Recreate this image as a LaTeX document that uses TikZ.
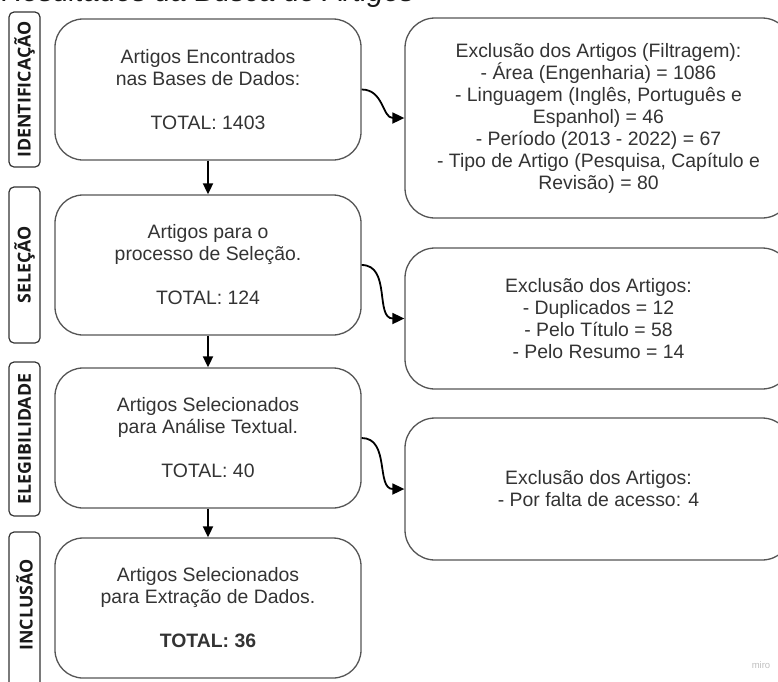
\documentclass[tikz,border=0pt]{standalone}
\usepackage{fontspec}
\setmainfont{Liberation Sans}
\newfontfamily\lanefont{Open Sans}
\usetikzlibrary{arrows.meta}
\definecolor{txt}{HTML}{333333}
\definecolor{edge}{HTML}{555555}
\begin{document}
\begin{tikzpicture}[x=1pt,y=-1pt,
  mainbox/.style={draw=edge,line width=1.3pt,rounded corners=28pt,minimum width=306pt,align=center,text=txt,font=\fontsize{19.4}{22}\selectfont,inner sep=0pt},
  sidebox/.style={draw=edge,line width=1.3pt,rounded corners=30pt,minimum width=387pt,align=center,text=txt,font=\fontsize{19.4}{22}\selectfont,inner sep=0pt},
  lanebox/.style={draw=black!80,line width=1.2pt,rounded corners=5pt,minimum width=31pt,inner sep=0pt},
  lanetext/.style={rotate=90,font=\lanefont\bfseries\fontsize{17.8}{20}\selectfont,text=black!90},
  flow/.style={line width=1.8pt,-{Triangle[length=11pt,width=10pt]}},
  curvy/.style={line width=1.8pt,-{Triangle[length=12pt,width=11pt]},out=0,in=180,looseness=1.1}]
\useasboundingbox (0,0) rectangle (778,681);
\begin{scope}
\clip (0,0) rectangle (778,681);
\node[anchor=base west,font=\itshape\fontsize{29}{32}\selectfont,text=black!90] (title) at (-2,1.5) {Resultados da Busca de Artigos};
% lanes
\node[lanebox,minimum height=155pt] (l1) at (24.5,89.5) {};
\node[lanetext] at (l1.center) {IDENTIFICAÇÃO};
\node[lanebox,minimum height=156pt] (l2) at (24.5,265) {};
\node[lanetext] at (l2.center) {SELEÇÃO};
\node[lanebox,minimum height=154pt] (l3) at (24.5,439) {};
\node[lanetext] at (l3.center) {ELEGIBILIDADE};
\node[lanebox,minimum height=168pt] (l4) at (24.5,616) {};
\node[lanetext] at (24.5,605) {INCLUSÃO};
% main boxes
\node[mainbox,minimum height=141pt] (b1) at (208,89.5) {Artigos Encontrados\\nas Bases de Dados:\\[22pt]TOTAL: 1403};
\node[mainbox,minimum height=140pt] (b2) at (208,265) {Artigos para o\\processo de Seleção.\\[22pt]TOTAL: 124};
\node[mainbox,minimum height=140pt] (b3) at (208,438) {Artigos Selecionados\\para Análise Textual.\\[22pt]TOTAL: 40};
\node[mainbox,minimum height=140pt] (b4) at (208,608) {Artigos Selecionados\\para Extração de Dados.\\[22pt]\textbf{TOTAL: 36}};
% side boxes
\node[sidebox,minimum height=200pt] (r1) at (598.5,118) {Exclusão dos Artigos (Filtragem):\\- Área (Engenharia) = 1086\\- Linguagem (Inglês, Português e\\Espanhol) = 46\\- Período (2013 - 2022) = 67\\- Tipo de Artigo (Pesquisa, Capítulo e\\Revisão) = 80};
\node[sidebox,minimum height=141pt] (r2) at (598.5,318.5) {Exclusão dos Artigos:\\- Duplicados = 12\\- Pelo Título = 58\\- Pelo Resumo = 14};
\node[sidebox,minimum height=142pt] (r3) at (598.5,489) {Exclusão dos Artigos:\\- Por falta de acesso: 4};
% connectors
\draw[flow] (b1.south) -- (b2.north);
\draw[flow] (b2.south) -- (b3.north);
\draw[flow] (b3.south) -- (b4.north);
\draw[curvy] (b1.east) to (r1.west);
\draw[curvy] (b2.east) to (r2.west);
\draw[curvy] (b3.east) to (r3.west);
\node[font=\fontsize{9.5}{10}\selectfont,text=black!25] (miro) at (761,665) {miro};
\end{scope}
\end{tikzpicture}
\end{document}
